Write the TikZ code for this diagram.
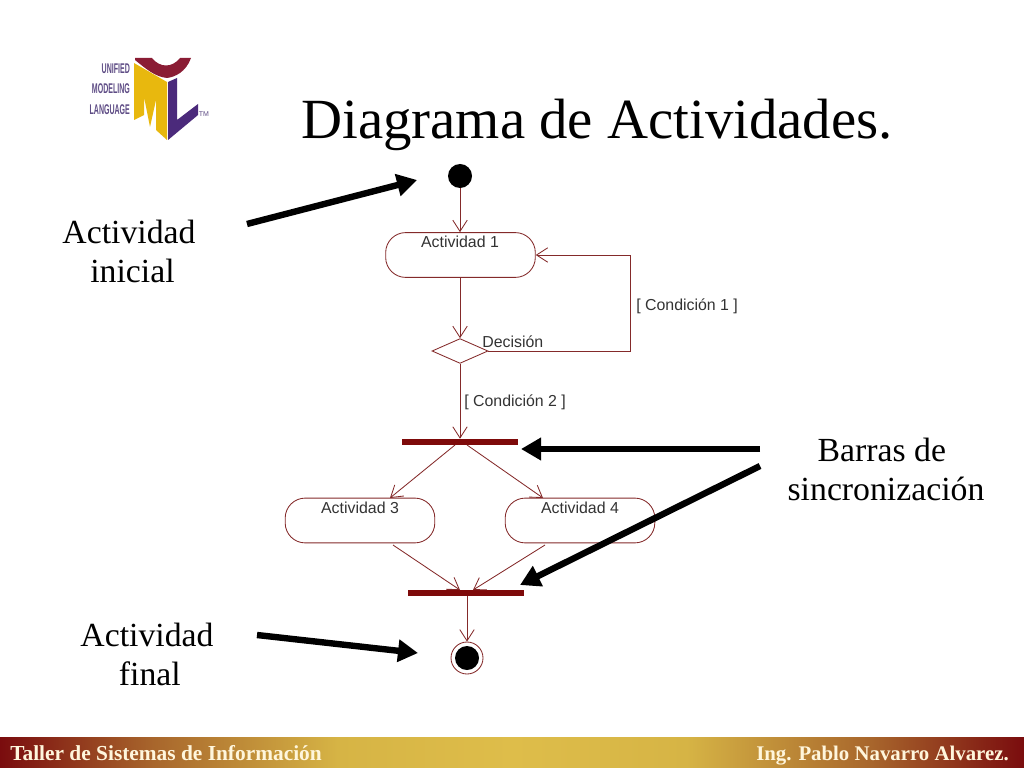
\documentclass[tikz,border=0pt]{standalone}
\usepackage{fontspec}
\setmainfont{Liberation Serif}
\newfontfamily\diagfont{Liberation Sans}
\usetikzlibrary{arrows.meta,shapes.geometric}
\definecolor{umlred}{HTML}{842A2A}
\definecolor{barred}{HTML}{7E0A0A}
\definecolor{logopurple}{HTML}{4B2A7B}
\definecolor{logotextc}{HTML}{5E4C85}
\definecolor{logoyellow}{HTML}{E8B80E}
\definecolor{logored}{HTML}{8A1C34}
\definecolor{footertext}{HTML}{FFF6DC}
\definecolor{bandred}{HTML}{7A0C0E}
\definecolor{bandbrown}{HTML}{A8662C}
\definecolor{bandgold}{HTML}{D6B445}
\definecolor{bandmid}{HTML}{DEBD4A}
\pgfdeclarehorizontalshading{footerband}{100bp}{color(0bp)=(bandred); color(25bp)=(bandred); color(32.5bp)=(bandbrown); color(41.5bp)=(bandgold); color(50bp)=(bandmid); color(58.5bp)=(bandgold); color(67.5bp)=(bandbrown); color(75bp)=(bandred); color(100bp)=(bandred)}
\tikzset{
	activity/.style={draw=umlred, line width=0.6pt, fill=white, rounded corners=0.5cm, minimum width=3.74cm, minimum height=1.12cm, inner sep=0},
	diagtext/.style={font=\diagfont\fontsize{11.3}{13}\selectfont, text=black!80, inner sep=0},
	syncbar/.style={fill=barred, minimum width=2.92cm, minimum height=0.15cm, inner sep=0},
	flow/.style={draw=umlred, line width=0.6pt, -{Straight Barb[length=0.28cm,width=0.36cm]}},
	pointer/.style={draw=black, line width=0.16cm, -{Triangle[length=0.5cm,width=0.54cm]}},
	bigtext/.style={font=\fontsize{24}{27.7}\selectfont, align=center, inner sep=0},
	logotext/.style={font=\diagfont\bfseries\fontsize{10}{11}\selectfont, text=logotextc, inner sep=0, anchor=east, xscale=0.5},
	footer/.style={font=\bfseries\fontsize{15}{17}\selectfont, text=footertext, inner sep=0}
}
\begin{document}
\begin{tikzpicture}[x=0.025cm, y=-0.025cm]
	\useasboundingbox (0, 0) rectangle (1024, 768);
	%%%%% LOGO %%%%%
	\fill[logoyellow] (134, 63) -- (167, 82) -- (167, 140) -- (156, 130) -- (156, 100) -- (150, 127) -- (144, 97) -- (144, 115) -- (134, 120) -- cycle;
	\fill[logopurple] (168, 82) -- (177, 78) -- (177, 120) -- (198, 104) -- (198, 115) -- (168, 140) -- cycle;
	\fill[logored] (135, 58) -- (152, 58) .. controls (160, 68) and (172, 68) .. (180, 58) -- (191, 58) .. controls (186, 72) and (175, 77) .. (167, 78) .. controls (155, 77) and (145, 68) .. (135, 60) -- cycle;
	\node[logotext] (unified) at (130, 69) {UNIFIED};
	\node[logotext] (modeling) at (130, 89) {MODELING};
	\node[logotext] (language) at (130, 110) {LANGUAGE};
	\node[logotext, font=\diagfont\fontsize{5}{6}\selectfont, xscale=2, anchor=center] (tm) at (204, 114) {TM};
	%%%%% TITLE %%%%%
	\node[font=\fontsize{40.4}{44}\selectfont, inner sep=0, anchor=base] (title) at (597, 139) {Diagrama de Actividades.};
	%%%%% DIAGRAM %%%%%
	\node[circle, fill=black, minimum size=0.6cm, inner sep=0] (start) at (460, 176) {};
	\node[activity] (act1) at (460.5, 255) {};
	\node[diagtext] (act1text) at (460, 242) {Actividad 1};
	\node[diamond, draw=umlred, line width=0.6pt, fill=white, shape aspect=2.24, minimum width=1.4cm, minimum height=0.62cm, inner sep=0] (decision) at (460, 351) {};
	\node[diagtext, anchor=west] (decisiontext) at (482, 342) {Decisión};
	\node[diagtext, anchor=west] (cond1) at (636, 306) {[ Condición 1 ]};
	\node[diagtext, anchor=west] (cond2) at (464, 402) {[ Condición 2 ]};
	\node[syncbar] (bar1) at (460, 442) {};
	\node[activity] (act3) at (360, 520.5) {};
	\node[diagtext] (act3text) at (360, 508) {Actividad 3};
	\node[activity] (act4) at (580, 520.5) {};
	\node[diagtext] (act4text) at (580, 508) {Actividad 4};
	\node[syncbar] (bar2) at (466, 593) {};
	\node[circle, draw=umlred, line width=0.6pt, fill=white, minimum size=0.8cm, inner sep=0] (final) at (467, 658) {};
	\node[circle, fill=black, minimum size=0.6cm, inner sep=0] (finaldot) at (467, 658) {};
	
	\coordinate (bar1l) at (455, 445);
	\coordinate (bar1r) at (467, 445);
	\coordinate (act3in) at (390, 498);
	\coordinate (act4in) at (543, 498);
	\coordinate (act3out) at (393, 545);
	\coordinate (act4out) at (545, 545);
	\coordinate (bar2l) at (460, 590);
	\coordinate (bar2r) at (473, 590);
	
	\draw[flow] (start) -- (act1.north -| start);
	\draw[flow] (act1.south -| decision) -- (decision);
	\draw[flow] (decision) -- (bar1.north -| decision);
	\draw[flow] (decision.east) -- (630, 351) |- (act1.east);
	\draw[flow] (bar1l) -- (act3in);
	\draw[flow] (bar1r) -- (act4in);
	\draw[flow] (act3out) -- (bar2l);
	\draw[flow] (act4out) -- (bar2r);
	\draw[flow] (bar2.south -| final) -- (final);
	%%%%% LABELS %%%%%
	\node[bigtext] (inicial) at (129, 251) {Actividad\\\hspace*{5pt}inicial};
	\node[bigtext] (barras) at (886, 469) {Barras de\hspace*{6pt}\\sincronización};
	\node[bigtext] (factivity) at (147, 654) {Actividad\\\hspace*{4pt}final};
	
	\coordinate (p1from) at (247, 224);
	\coordinate (p1to) at (417, 180);
	\coordinate (p2from) at (760, 449);
	\coordinate (p2to) at (521, 449);
	\coordinate (p3from) at (760, 466);
	\coordinate (p3to) at (520, 585);
	\coordinate (p4from) at (257, 635);
	\coordinate (p4to) at (418, 653);
	
	\draw[pointer] (p1from) -- (p1to);
	\draw[pointer] (p2from) -- (p2to);
	\draw[pointer] (p3from) -- (p3to);
	\draw[pointer] (p4from) -- (p4to);
	%%%%% FOOTER %%%%%
	\path[shading=footerband] (0, 737) rectangle (1024, 768);
	\node[footer, anchor=base west, font=\bfseries\fontsize{15.2}{17}\selectfont] (taller) at (10, 760) {Taller de Sistemas de Información};
	\node[footer, anchor=base east, font=\bfseries\fontsize{14.8}{17}\selectfont] (autor) at (1009, 760) {Ing. Pablo Navarro Alvarez.};
\end{tikzpicture}
\end{document}
